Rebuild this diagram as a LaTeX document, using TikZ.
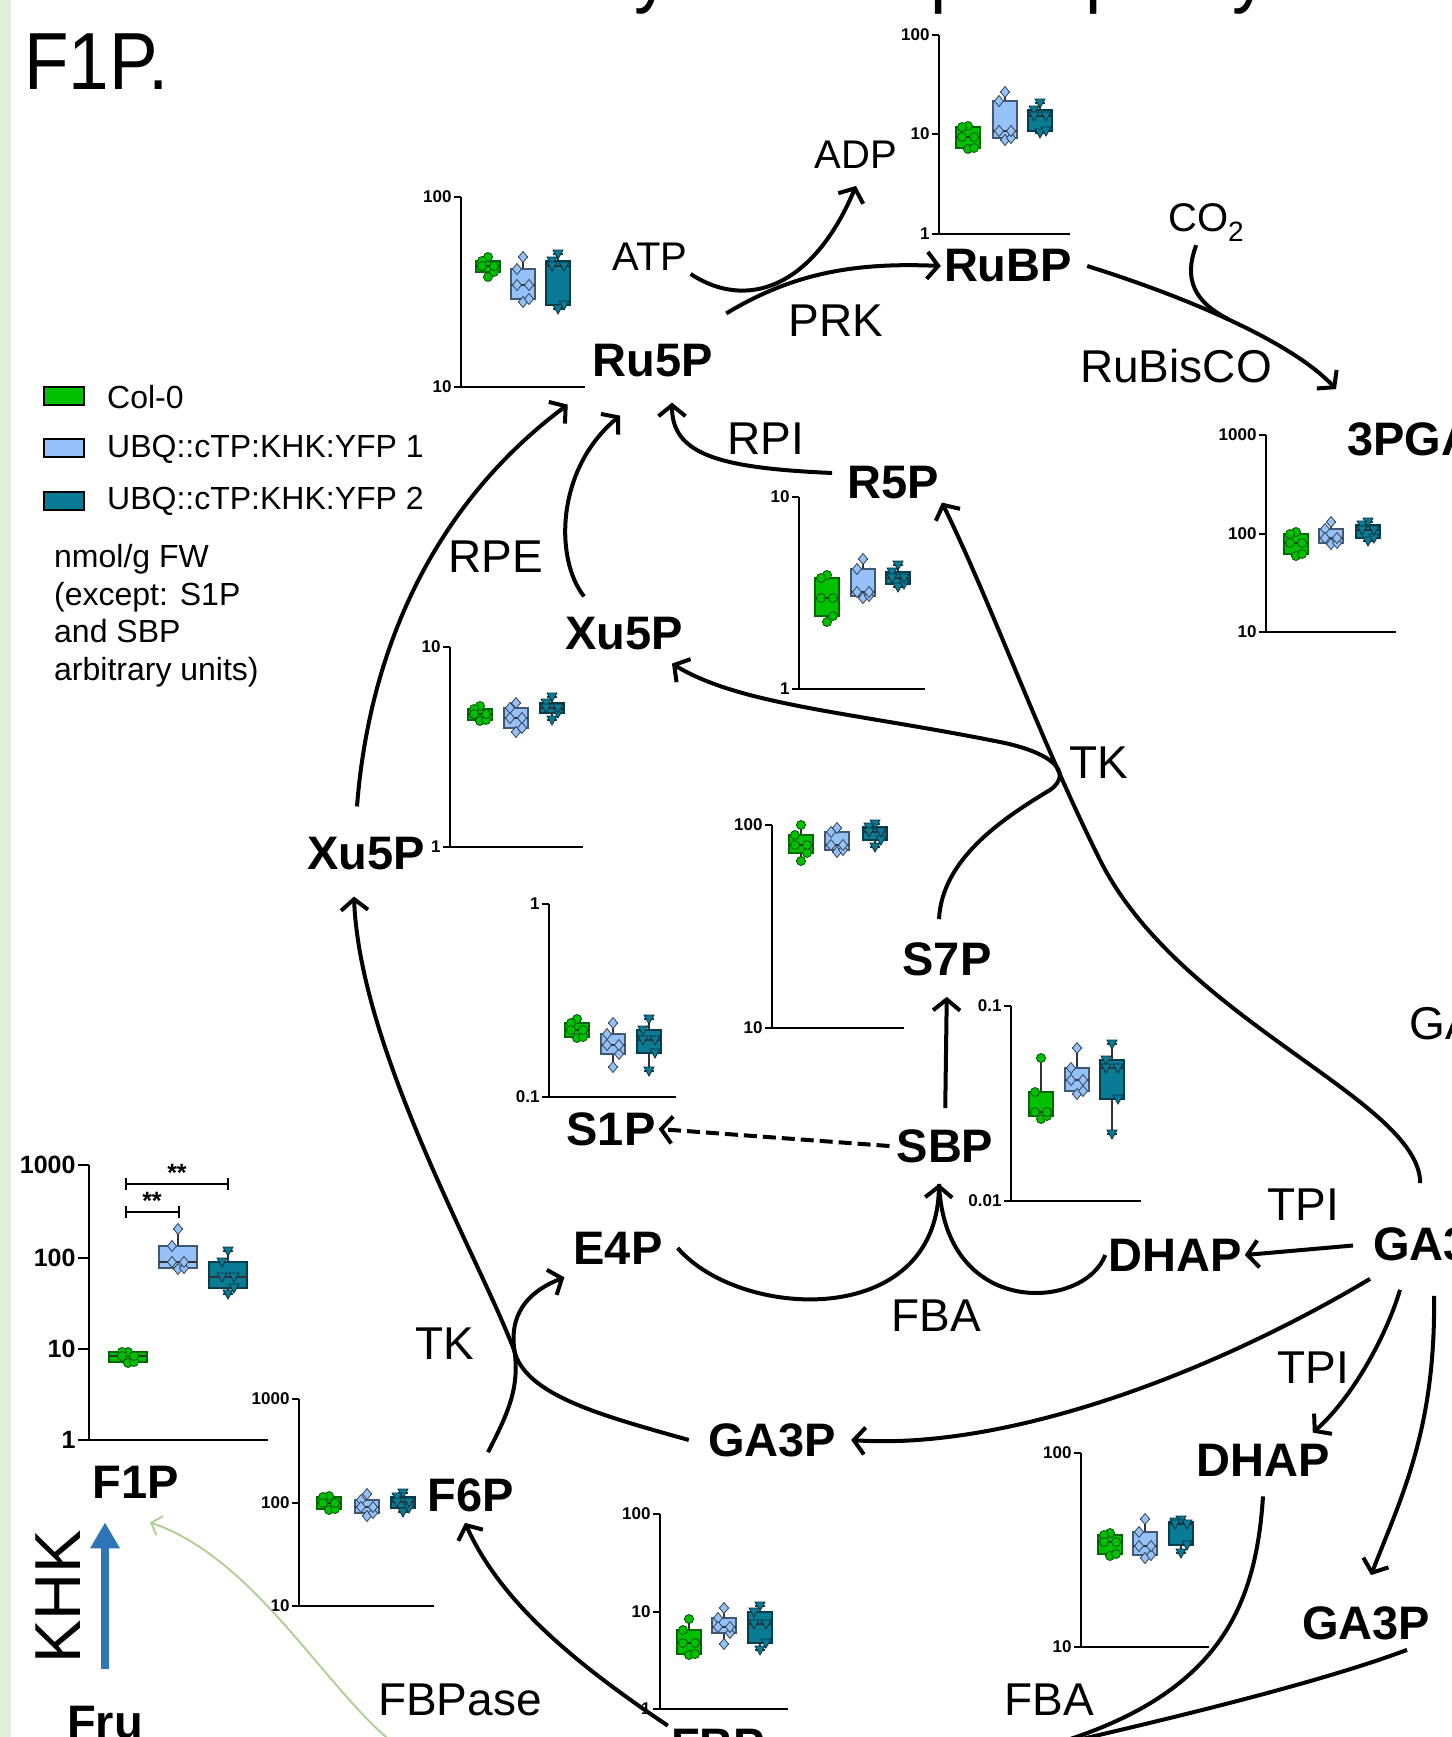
\documentclass[tikz,border=0pt]{standalone}
\usepackage{fontspec}
\setmainfont{Liberation Sans}
\usetikzlibrary{arrows.meta}

\definecolor{colG}{HTML}{00C000}
\definecolor{colB}{HTML}{94C1F8}
\definecolor{colT}{HTML}{0A7B95}
\definecolor{colK}{HTML}{2E75B6}
\definecolor{colL}{HTML}{A8D08D}
\definecolor{strip}{HTML}{E2EFDA}

\newcommand{\metf}{\fontsize{47}{52}\selectfont\bfseries}
\newcommand{\enzf}{\fontsize{46}{50}\selectfont}
\newcommand{\atpf}{\fontsize{40}{44}\selectfont}
\newcommand{\legf}{\fontsize{32}{37.7}\selectfont}
\newcommand{\tickf}{\fontsize{17}{18}\selectfont\bfseries}
\newcommand{\btickf}{\fontsize{25}{26}\selectfont\bfseries}
\newcommand{\ttlf}{\fontsize{81}{81}\selectfont}

% chart axes and ticks
\newcommand{\chax}[4]{\draw[chaxis] (#1,#2) -- (#1,#3) -- (#4,#3);}
\newcommand{\ytk}[3]{\draw[chaxis] (#2) -- ++(-7,0) node[ticklab] (#1) {#3};}
\newcommand{\ytkb}[3]{\draw[chaxis] (#2) -- ++(-11,0) node[ticklab, font=\btickf] (#1) {#3};}
% data points
\newcommand{\mkG}[2]{\filldraw[dotG] (#1,#2) circle[radius=4.5];}
\newcommand{\mkB}[2]{\filldraw[dotB] (#1,#2) ++(0,-5.5) -- ++(4.5,5.5) -- ++(-4.5,5.5) -- ++(-4.5,-5.5) -- cycle;}
\newcommand{\mkT}[2]{\filldraw[dotT] (#1,#2) ++(-5,-4) -- ++(10,0) -- ++(-5,9) -- cycle;}
\def\bhw{12}
% x, whisker top, box top, median, box bottom, whisker bottom, group
\newcommand{\bplot}[7]{%
  \draw[whisk] (#1,#2) -- (#1,#6) (#1-5,#2) -- (#1+5,#2) (#1-5,#6) -- (#1+5,#6);
  \filldraw[box#7] (#1-\bhw,#3) rectangle (#1+\bhw,#5);
  \draw[whisk] (#1-\bhw,#4) -- (#1+\bhw,#4);
  \foreach \px/\py in {#1/#2,#1/#6,#1-6/#3,#1+6/#5,#1-6/#4,#1+6/#4}{\csname mk#7\endcsname{\px}{\py}}%
}

\begin{document}
\begin{tikzpicture}[x=1pt,y=-1pt,
    met/.style={font=\metf,inner sep=3pt},
    enz/.style={font=\enzf,inner sep=3pt},
    small/.style={font=\atpf,inner sep=3pt},
    ttl/.style={anchor=base west,inner sep=0,xscale=.9,font=\ttlf},
    legtext/.style={font=\legf,inner sep=3pt,anchor=west},
    ticklab/.style={left,inner sep=1.5pt,font=\tickf},
    chaxis/.style={line width=2pt,draw=black},
    whisk/.style={line width=1.2pt,draw=black!80},
    boxG/.style={fill=colG,draw=colG!55!black,line width=1.2pt},
    boxB/.style={fill=colB,draw=colB!45!black,line width=1.2pt},
    boxT/.style={fill=colT,draw=colT!50!black,line width=1.2pt},
    dotG/.style={fill=colG,draw=colG!45!black,line width=.8pt},
    dotB/.style={fill=colB,draw=colB!35!black,line width=.8pt},
    dotT/.style={fill=colT,draw=colT!40!black,line width=.8pt},
    legbox/.style={draw=black,line width=2pt},
    rxn/.style={line width=4pt,draw=black},
    arr/.style={rxn,-{Straight Barb[length=11pt,width=27pt]}},
    dsh/.style={dash pattern=on 13pt off 6pt},
    khk/.style={line width=8pt,draw=colK,-{Triangle[length=26pt,width=28pt]}},
    lg/.style={line width=1.8pt,draw=colL,-{Straight Barb[length=9pt,width=20pt]}}
  ]
  \useasboundingbox (0,0) rectangle (1451,1737);
  \clip (0,0) rectangle (1451,1737);
  \fill[white] (0,0) rectangle (1451,1737);
  \fill[strip] (0,0) rectangle (11,1737);

  %title
  \node[ttl] (ttlF) at (24,89) {F1P.};
  \node[ttl] (ty1) at (634,-2) {y};
  \node[ttl] (tp1) at (930,-2) {p};
  \node[ttl] (tp2) at (1085,-2) {p};
  \node[ttl] (ty2) at (1232,-2) {y};

  %legend
  \filldraw[legbox,fill=colG] (44,387) rectangle (84,405);
  \filldraw[legbox,fill=colB] (44,439) rectangle (84,457);
  \filldraw[legbox,fill=colT] (44,492) rectangle (84,510);
  \node[legtext] (lgG) at (104,397) {Col-0};
  \node[legtext] (lgB) at (104,449) {UBQ::cTP:KHK:YFP 1};
  \node[legtext] (lgT) at (104,501) {UBQ::cTP:KHK:YFP 2};
  \node[font=\legf,anchor=north west,align=left,inner sep=0] (unit) at (54,544)
    {nmol/g FW\\(except: S1P\\and SBP\\arbitrary units)};

  %charts
  \chax{461}{197}{387}{585}
  \ytk{aA}{461,197}{100} \ytk{aB}{461,387}{10}
  \bplot{488}{257}{261}{266}{272}{277}{G}
  \bplot{523}{257}{269}{285}{299}{302}{B}
  \bplot{558}{254}{261}{266}{305}{309}{T}

  \chax{939}{35}{234}{1070}
  \ytk{bA}{939,35}{100} \ytk{bB}{939,134}{10} \ytk{bC}{939,234}{1}
  \bplot{968}{126}{127}{137}{148}{149}{G}
  \bplot{1005}{92}{101}{131}{138}{140}{B}
  \bplot{1040}{103}{110}{116}{131}{133}{T}

  \chax{1266}{435}{632}{1396}
  \ytk{cA}{1266,435}{1000} \ytk{cB}{1266,534}{100} \ytk{cC}{1266,632}{10}
  \bplot{1296}{532}{534}{543}{554}{556}{G}
  \bplot{1331}{522}{529}{538}{543}{544}{B}
  \bplot{1368}{522}{525}{530}{538}{541}{T}

  \chax{799}{497}{689}{925}
  \ytk{dA}{799,497}{10} \ytk{dB}{799,689}{1}
  \bplot{827}{575}{578}{598}{616}{622}{G}
  \bplot{863}{559}{569}{592}{596}{598}{B}
  \bplot{898}{565}{572}{578}{584}{587}{T}

  \chax{450}{647}{847}{583}
  \ytk{eA}{450,647}{10} \ytk{eB}{450,847}{1}
  \bplot{480}{706}{709}{714}{720}{721}{G}
  \bplot{516}{703}{708}{718}{728}{732}{B}
  \bplot{552}{697}{703}{708}{713}{720}{T}

  \chax{772}{825}{1028}{904}
  \ytk{fA}{772,825}{100} \ytk{fB}{772,1028}{10}
  \bplot{801}{825}{835}{845}{853}{861}{G}
  \bplot{837}{828}{832}{845}{850}{852}{B}
  \bplot{875}{824}{827}{832}{840}{847}{T}

  \chax{549}{904}{1097}{676}
  \ytk{gA}{549,904}{1} \ytk{gB}{549,1097}{0.1}
  \bplot{577}{1019}{1023}{1030}{1037}{1038}{G}
  \bplot{613}{1023}{1034}{1045}{1054}{1067}{B}
  \bplot{649}{1019}{1030}{1040}{1053}{1071}{T}

  \chax{1011}{1006}{1201}{1141}
  \ytk{hA}{1011,1006}{0.1} \ytk{hB}{1011,1201}{0.01}
  \bplot{1041}{1058}{1092}{1112}{1116}{1119}{G}
  \bplot{1077}{1048}{1068}{1080}{1091}{1094}{B}
  \bplot{1112}{1044}{1060}{1068}{1099}{1134}{T}

  \def\bhw{19}
  \chax{89}{1165}{1440}{268}
  \ytkb{iA}{89,1165}{1000} \ytkb{iB}{89,1258}{100} \ytkb{iC}{89,1349}{10} \ytkb{iD}{89,1440}{1}
  \bplot{128}{1352}{1352}{1356}{1362}{1363}{G}
  \bplot{178}{1229}{1246}{1262}{1268}{1269}{B}
  \bplot{228}{1251}{1262}{1277}{1288}{1294}{T}
  \def\bhw{12}
  \draw[chaxis] (126,1206) -- (126,1218) (126,1212) -- (179,1212) (179,1206) -- (179,1218);
  \draw[chaxis] (126,1178) -- (126,1190) (126,1184) -- (228,1184) (228,1178) -- (228,1190);
  \node[font=\btickf,inner sep=0] (sig1) at (152,1201) {**};
  \node[font=\btickf,inner sep=0] (sig2) at (177,1173) {**};

  \chax{299}{1399}{1606}{434}
  \ytk{jA}{299,1399}{1000} \ytk{jB}{299,1503}{100} \ytk{jC}{299,1606}{10}
  \bplot{329}{1496}{1497}{1503}{1509}{1510}{G}
  \bplot{367}{1494}{1500}{1507}{1513}{1516}{B}
  \bplot{403}{1493}{1497}{1502}{1508}{1512}{T}

  \chax{660}{1514}{1709}{788}
  \ytk{kA}{660,1514}{100} \ytk{kB}{660,1612}{10} \ytk{kC}{660,1709}{1}
  \bplot{689}{1619}{1630}{1643}{1654}{1655}{G}
  \bplot{724}{1608}{1618}{1627}{1633}{1644}{B}
  \bplot{760}{1606}{1612}{1624}{1643}{1650}{T}

  \chax{1081}{1453}{1647}{1209}
  \ytk{lA}{1081,1453}{100} \ytk{lB}{1081,1647}{10}
  \bplot{1110}{1533}{1535}{1542}{1554}{1556}{G}
  \bplot{1145}{1519}{1532}{1546}{1555}{1558}{B}
  \bplot{1181}{1520}{1522}{1524}{1545}{1553}{T}

  %metabolites
  \node[met] (Ru5P) at (653,361) {Ru5P};
  \node[met] (RuBP) at (1008,266) {RuBP};
  \node[met,anchor=west] (PGA) at (1344,439) {3PGA};
  \node[met] (R5P) at (893,483) {R5P};
  \node[met] (XuTop) at (624,634) {Xu5P};
  \node[met] (XuLeft) at (366,854) {Xu5P};
  \node[met] (S7P) at (947,959) {S7P};
  \node[met] (S1P) at (611,1129) {S1P};
  \node[met] (SBP) at (945,1146) {SBP};
  \node[met] (E4P) at (618,1248) {E4P};
  \node[met] (DHAPm) at (1175,1255) {DHAP};
  \node[met,anchor=west] (GAR) at (1370,1244) {GA3P};
  \node[met] (GAC) at (772,1440) {GA3P};
  \node[met] (DHAPl) at (1263,1460) {DHAP};
  \node[met] (GAl) at (1366,1623) {GA3P};
  \node[met] (F6P) at (471,1495) {F6P};
  \node[met] (F1P) at (136,1482) {F1P};
  \node[met] (Fru) at (105,1723) {Fru};
  \node[met] (FBP) at (718,1745) {FBP};

  %enzymes and cofactors
  \node[small] (ATP) at (650,257) {ATP};
  \node[small] (ADP) at (856,155) {ADP};
  \node[small,anchor=base west] (CO2) at (1165,231) {CO\textsubscript{2}};
  \node[enz] (PRK) at (836,321) {PRK};
  \node[enz] (RuBisCO) at (1176,366) {RuBisCO};
  \node[enz] (RPI) at (766,439) {RPI};
  \node[enz] (RPE) at (496,557) {RPE};
  \node[enz] (TKa) at (1099,763) {TK};
  \node[enz] (TKb) at (445,1344) {TK};
  \node[enz] (FBAa) at (936,1316) {FBA};
  \node[enz] (TPIa) at (1303,1205) {TPI};
  \node[enz] (TPIb) at (1313,1368) {TPI};
  \node[enz] (FBPase) at (460,1700) {FBPase};
  \node[enz] (FBAb) at (1049,1700) {FBA};
  \node[enz,anchor=west] (GAPDH) at (1406,1024) {GAPDH};
  \node[rotate=90,inner sep=0,font=\fontsize{65}{70}\selectfont] (KHK) at (58,1597) {KHK};

  %reactions
  \draw[arr] (ATP.south east) .. controls (745,310) and (812,290) .. ([yshift=-14pt]ADP.south);
  \draw[arr] ([xshift=10pt,yshift=28pt]Ru5P.north east) .. controls (790,275) and (850,262) .. (RuBP.west);
  \draw[arr] ([xshift=12pt]RuBP.east) .. controls (1180,295) and (1290,340) .. ([xshift=-8pt,yshift=30pt]PGA.north west);
  \coordinate (co2in) at (1228,319);
  \draw[rxn] ([xshift=-10pt]CO2.south) .. controls (1183,280) and (1195,302) .. (co2in);
  \draw[arr] ([xshift=-12pt,yshift=10pt]R5P.west) .. controls (720,468) and (672,455) .. ([xshift=19pt,yshift=-22pt]Ru5P.south);
  \draw[arr] ([xshift=22pt,yshift=18pt]XuTop.north west) .. controls (555,560) and (555,470) .. ([xshift=-33pt,yshift=-35pt]Ru5P.south);
  \draw[arr] ([xshift=-9pt,yshift=28pt]XuLeft.north) .. controls (370,640) and (440,500) .. ([xshift=-22pt,yshift=-24pt]Ru5P.south west);

  % TK (upper)
  \draw[arr] ([xshift=-17pt,yshift=41pt]GAR.north) .. controls (1420,1100) and (1180,1020) .. (1100,860)
    .. controls (1040,740) and (990,600) .. (R5P.south east);
  \draw[arr] ([xshift=-8pt,yshift=20pt]S7P.north) .. controls (942,860) and (1000,820) .. (1050,790)
    .. controls (1075,772) and (1050,752) .. (1000,742)
    .. controls (850,712) and (740,705) .. ([xshift=-14pt,yshift=-10pt]XuTop.south east);

  \draw[arr,shorten <=18pt,shorten >=18pt] (SBP.north) -- (S7P.south);
  \draw[arr,dsh] ([xshift=-4pt]SBP.west) -- (S1P.east);

  % FBA (upper)
  \draw[arr] ([xshift=12pt]E4P.east) .. controls (740,1320) and (936,1330) .. ([xshift=-6pt,yshift=-18pt]SBP.south);
  \draw[rxn] (DHAPm.west) .. controls (1085,1310) and (945,1320) .. ([xshift=-6pt,yshift=-18pt]SBP.south);

  % TPI
  \draw[arr,shorten <=17pt] (GAR.west) -- (DHAPm.east);
  \draw[arr] ([yshift=-15pt]GAR.south west) .. controls (1200,1380) and (1000,1450) .. ([xshift=12pt]GAC.east);
  \draw[arr] ([xshift=30pt,yshift=-26pt]GAR.south west) .. controls (1385,1340) and (1350,1400) .. ([xshift=-20pt,yshift=8pt]DHAPl.north east);
  \draw[arr] ([xshift=64pt,yshift=-32pt]GAR.south west) .. controls (1436,1430) and (1400,1500) .. ([xshift=5pt,yshift=28pt]GAl.north);

  % FBA (lower)
  \coordinate (fbpin) at (990,1760);
  \draw[rxn] ([yshift=-17pt]DHAPl.south) .. controls (1255,1620) and (1210,1715) .. (fbpin);
  \draw[rxn] ([xshift=41pt,yshift=-7pt]GAl.south) .. controls (1300,1690) and (1100,1735) .. (fbpin);

  % FBPase
  \draw[arr] (FBP.north west) .. controls (570,1660) and (500,1600) .. ([xshift=-6pt,yshift=-8pt]F6P.south);

  % TK (lower)
  \draw[arr] ([xshift=17pt,yshift=23pt]F6P.north) .. controls (510,1410) and (520,1385) .. (514,1347)
    .. controls (510,1310) and (532,1290) .. ([xshift=-6pt,yshift=-10pt]E4P.south west);
  \draw[arr] ([xshift=-16pt]GAC.west) .. controls (600,1415) and (525,1395) .. (514,1350)
    .. controls (480,1260) and (360,1050) .. ([xshift=-12pt,yshift=-23pt]XuLeft.south);

  % KHK
  \draw[khk,shorten <=34pt,shorten >=21pt] (Fru.north) -- (Fru.north |- F1P.south);
  \coordinate (grn) at (405,1752);
  \draw[lg] (grn) .. controls (330,1700) and (260,1560) .. ([xshift=14pt,yshift=-21pt]F1P.south);
\end{tikzpicture}
\end{document}
